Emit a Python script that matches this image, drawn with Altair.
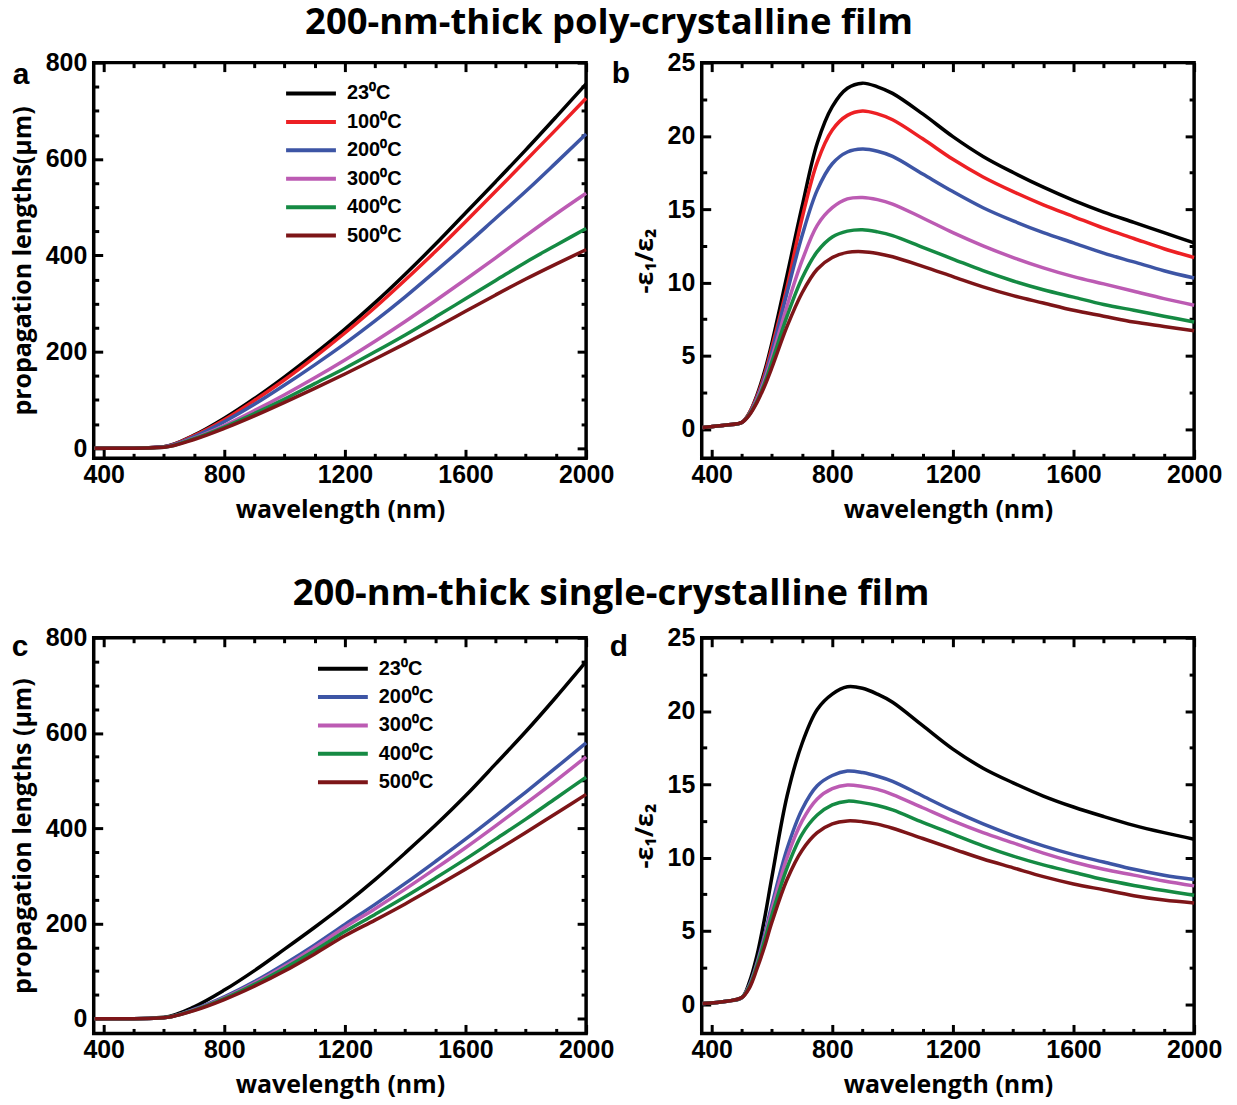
import altair as alt
import pandas as pd

# ---------------- data ----------------
temps_poly = ["23⁰C", "100⁰C", "200⁰C", "300⁰C", "400⁰C", "500⁰C"]
colors_poly = ["#000000", "#ED2024", "#3D55A5", "#BC5BB3", "#158A43", "#7D1518"]
temps_single = ["23⁰C", "200⁰C", "300⁰C", "400⁰C", "500⁰C"]
colors_single = ["#000000", "#3D55A5", "#BC5BB3", "#158A43", "#7D1518"]

wl_ac = [370, 400, 500, 600, 700, 800, 900, 1000, 1100, 1200, 1300, 1400, 1500, 1600, 1700, 1800, 1900, 2000]
a_23 = [0, 0, 0, 3, 27, 62, 103, 148, 196, 247, 302, 361, 423, 488, 553, 619, 687, 756]
a_100 = [0, 0, 0, 3, 26, 59, 99, 142, 189, 239, 292, 349, 408, 470, 533, 597, 661, 726]
a_200 = [0, 0, 0, 3, 24, 55, 91, 131, 173, 217, 264, 314, 367, 421, 477, 533, 592, 652]
a_300 = [0, 0, 0, 2, 21, 47, 78, 111, 146, 183, 222, 263, 306, 350, 395, 441, 486, 529]
a_400 = [0, 0, 0, 2, 20, 44, 72, 102, 134, 166, 200, 235, 272, 310, 348, 386, 421, 456]
a_500 = [0, 0, 0, 2, 18, 41, 67, 95, 124, 154, 185, 217, 250, 284, 318, 351, 382, 412]

c_23 = [0, 0, 0, 3, 25, 60, 101, 146, 192, 240, 292, 348, 406, 468, 535, 603, 675, 750]
c_200 = [0, 0, 0, 2, 20, 46, 78, 115, 155, 198, 240, 284, 330, 377, 426, 476, 527, 579]
c_300 = [0, 0, 0, 2, 19, 44, 75, 110, 150, 192, 231, 272, 315, 359, 405, 452, 500, 550]
c_400 = [0, 0, 0, 2, 18, 42, 72, 106, 143, 183, 219, 256, 295, 335, 377, 419, 463, 507]
c_500 = [0, 0, 0, 2, 17, 40, 68, 100, 136, 174, 207, 241, 277, 314, 352, 391, 431, 471]

wl_bd = [370, 450, 500, 525, 550, 575, 600, 650, 700, 750, 800, 850, 900, 950, 1000,
         1100, 1200, 1300, 1400, 1500, 1600, 1700, 1800, 1900, 2000]
b_23 = [0.1, 0.27, 0.45, 1.1, 2.3, 3.9, 5.9, 10.5, 15.2, 19.5, 22.0, 23.25, 23.6, 23.35, 22.9,
        21.5, 19.95, 18.6, 17.5, 16.5, 15.6, 14.8, 14.1, 13.4, 12.7]
b_100 = [0.1, 0.27, 0.45, 1.1, 2.2, 3.7, 5.6, 9.7, 14.4, 18.2, 20.4, 21.4, 21.7, 21.5, 21.1,
         19.8, 18.4, 17.2, 16.2, 15.3, 14.5, 13.7, 13.0, 12.3, 11.7]
b_200 = [0.1, 0.27, 0.45, 1.05, 2.1, 3.5, 5.3, 9.3, 13.2, 16.3, 18.1, 18.9, 19.1, 18.95, 18.6,
         17.4, 16.2, 15.1, 14.2, 13.4, 12.7, 12.0, 11.4, 10.8, 10.3]
b_300 = [0.1, 0.27, 0.45, 1.0, 2.0, 3.3, 4.9, 8.4, 11.5, 13.9, 15.1, 15.7, 15.8, 15.65, 15.35,
         14.4, 13.4, 12.5, 11.7, 11.0, 10.4, 9.9, 9.4, 8.9, 8.45]
b_400 = [0.1, 0.27, 0.45, 1.0, 1.9, 3.1, 4.6, 7.7, 10.3, 12.1, 13.1, 13.5, 13.6, 13.45, 13.2,
         12.4, 11.6, 10.8, 10.1, 9.5, 9.0, 8.5, 8.1, 7.7, 7.3]
b_500 = [0.1, 0.27, 0.45, 0.95, 1.8, 2.9, 4.2, 7.0, 9.3, 10.9, 11.7, 12.05, 12.1, 11.98, 11.75,
         11.1, 10.4, 9.7, 9.1, 8.6, 8.1, 7.7, 7.3, 7.0, 6.7]

d_23 = [0.05, 0.2, 0.45, 1.5, 3.3, 5.8, 8.7, 14.2, 17.8, 20.1, 21.15, 21.65, 21.55, 21.15, 20.6,
        19.0, 17.4, 16.1, 15.1, 14.2, 13.45, 12.8, 12.2, 11.7, 11.25]
d_200 = [0.05, 0.2, 0.45, 1.3, 2.8, 4.7, 6.8, 10.6, 13.3, 14.9, 15.6, 15.9, 15.8, 15.55, 15.2,
         14.2, 13.2, 12.3, 11.5, 10.8, 10.2, 9.7, 9.2, 8.8, 8.5]
d_300 = [0.05, 0.2, 0.45, 1.25, 2.7, 4.5, 6.5, 10.0, 12.5, 14.0, 14.7, 14.95, 14.85, 14.65, 14.3,
         13.4, 12.5, 11.7, 11.0, 10.3, 9.7, 9.2, 8.8, 8.4, 8.07]
d_400 = [0.05, 0.2, 0.45, 1.2, 2.6, 4.3, 6.1, 9.3, 11.6, 12.9, 13.6, 13.85, 13.75, 13.55, 13.25,
         12.4, 11.6, 10.8, 10.1, 9.5, 9.0, 8.5, 8.1, 7.75, 7.43]
d_500 = [0.05, 0.2, 0.45, 1.1, 2.4, 3.9, 5.6, 8.5, 10.5, 11.7, 12.3, 12.5, 12.45, 12.28, 12.0,
         11.3, 10.6, 9.9, 9.3, 8.7, 8.2, 7.8, 7.4, 7.1, 6.9]

x_major = [400, 800, 1200, 1600, 2000]
x_minor = [500, 600, 700, 900, 1000, 1100, 1300, 1400, 1500, 1700, 1800, 1900]
L_major = [0, 200, 400, 600, 800]
L_minor = [50, 100, 150, 250, 300, 350, 450, 500, 550, 650, 700, 750]
E_major = [0, 5, 10, 15, 20, 25]
E_minor = [2.5, 7.5, 12.5, 17.5, 22.5]

title_top = "200-nm-thick poly-crystalline film"
title_bottom = "200-nm-thick single-crystalline film"


def long_df(wl, temps, series):
    rows = []
    for t, vals in zip(temps, series):
        for w, v in zip(wl, vals):
            rows.append({"wl": w, "v": v, "T": t})
    return pd.DataFrame(rows)


df_a = long_df(wl_ac, temps_poly, [a_23, a_100, a_200, a_300, a_400, a_500])
df_b = long_df(wl_bd, temps_poly, [b_23, b_100, b_200, b_300, b_400, b_500])
df_c = long_df(wl_ac, temps_single, [c_23, c_200, c_300, c_400, c_500])
df_d = long_df(wl_bd, temps_single, [d_23, d_200, d_300, d_400, d_500])

W, H = 494, 397
LABEL_FONT = "Liberation Sans"
TITLE_FONT = "Open Sans"


def panel(df, ydom, ymaj, ymin, ytitle, letter, temps, colors, legend_pos,
          letter_xy, interp, title=None):
    xs = alt.Scale(domain=[367, 2000], nice=False, zero=False)
    ys = alt.Scale(domain=ydom, nice=False, zero=False)

    if legend_pos is None:
        leg = None
    else:
        leg = alt.Legend(
            orient="none", legendX=legend_pos[0], legendY=legend_pos[1], title=None,
            labelFont=LABEL_FONT, labelFontSize=20, labelFontWeight="bold", labelColor="black",
            symbolType="M-5,0L5,0", symbolSize=100, symbolStrokeWidth=4,
            labelOffset=26, rowPadding=8.5, padding=0, labelLimit=200,
        )

    base = alt.Chart(df)
    lines = base.mark_line(strokeWidth=3.5, interpolate=interp).encode(
        x=alt.X("wl:Q", scale=xs, axis=alt.Axis(
            orient="bottom", values=x_major, offset=-9, tickSize=9, labelPadding=4,
            title="wavelength (nm)", titlePadding=10, format="d")),
        y=alt.Y("v:Q", scale=ys, axis=alt.Axis(
            orient="left", values=ymaj, offset=-9, tickSize=9, labelPadding=7,
            title=ytitle, titlePadding=10, format="d")),
        color=alt.Color("T:N", scale=alt.Scale(domain=temps, range=colors), sort=temps, legend=leg),
    )

    def ghost(xorient, xvals, xoff, yorient, yvals, yoff):
        return base.mark_line(strokeOpacity=0).encode(
            x=alt.X("wl:Q", scale=xs, axis=alt.Axis(
                orient=xorient, values=xvals, offset=xoff, tickSize=-xoff, labels=False, title=None)),
            y=alt.Y("v:Q", scale=ys, axis=alt.Axis(
                orient=yorient, values=yvals, offset=yoff, tickSize=-yoff, labels=False, title=None)),
            detail="T:N",
        )

    g1 = ghost("bottom", x_minor, -5, "left", ymin, -5)
    g2 = ghost("top", x_major, -9, "right", ymaj, -9)
    g3 = ghost("top", x_minor, -5, "right", ymin, -5)

    lab = alt.Chart(pd.DataFrame({"t": [letter]})).mark_text(
        font=LABEL_FONT, fontSize=30, fontWeight="bold", color="black",
        align="center", baseline="alphabetic"
    ).encode(text="t:N", x=alt.value(letter_xy[0]), y=alt.value(letter_xy[1]))

    props = dict(width=W, height=H)
    if title is not None:
        props["title"] = alt.TitleParams(
            text=title[0], anchor="start", frame="group", orient="top", align="center",
            dx=title[1], offset=title[2], dy=title[3], baseline="alphabetic",
            font=TITLE_FONT, fontSize=36.5, fontWeight="bold", color="black")

    return alt.layer(lines, g1, g2, g3, lab).resolve_axis(
        x="independent", y="independent").properties(**props)


pa = panel(df_a, [-21, 800], L_major, L_minor, "propagation lengths(μm)", "a",
           temps_poly, colors_poly, (208, 21), (-73, 21), "monotone", (title_top, 517, 28, 48))
pb = panel(df_b, [-2, 25], E_major, E_minor, "-ε₁/ε₂", "b",
           temps_poly, colors_poly, None, (-81, 20), "catmull-rom")
pc = panel(df_c, [-31, 800], L_major, L_minor, "propagation lengths (μm)", "c",
           temps_single, colors_single, (240, 21), (-74, 18), "monotone", (title_bottom, 519, 33, 49))
pd_ = panel(df_d, [-2, 25], E_major, E_minor, "-ε₁/ε₂", "d",
            temps_single, colors_single, None, (-83, 18), "catmull-rom")

chart = alt.concat(
    pa, pb, pc, pd_, columns=2, bounds="flush",
    spacing=alt.RowColnumber(row=180, column=116),
).resolve_scale(
    x="independent", y="independent", color="independent"
).properties(
    padding={"left": 0, "top": -7, "right": 5, "bottom": 5}
).configure_view(
    stroke="black", strokeWidth=3.5
).configure_axis(
    grid=False, domain=False, tickColor="black", tickWidth=3,
    labelFont=LABEL_FONT, labelFontSize=25, labelFontWeight="bold", labelColor="black",
    titleFont=TITLE_FONT, titleFontSize=25, titleFontWeight="bold", titleColor="black",
    labelOverlap=False, labelFlush=False,
)

chart.save("out.html", embed_options={"renderer": "svg", "actions": False})
